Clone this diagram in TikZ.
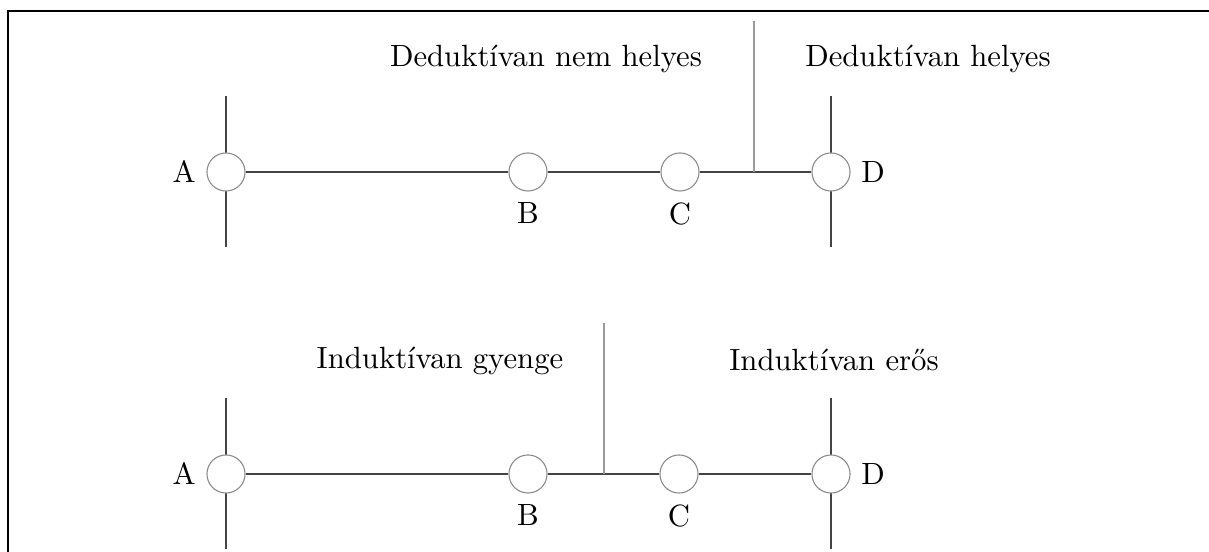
\documentclass[tikz,border=0pt]{standalone}
\usepackage{fontspec}
\definecolor{linec}{HTML}{444444}
\definecolor{circc}{HTML}{8A8A8A}
\definecolor{divc}{HTML}{9A9A9A}
\tikzset{
  pt/.style={circle, draw=circc, line width=0.35pt, fill=white, minimum size=12.4pt, inner sep=0pt, label distance=0pt},
  conn/.style={draw=linec, line width=0.4pt},
  divider/.style={draw=divc, line width=0.4pt},
  frameline/.style={draw=black, line width=0.5pt},
  title/.style={anchor=base, inner sep=0pt}
}
\begin{document}
\begin{tikzpicture}[x=0.3257pt, y=-0.3257pt]
\useasboundingbox (0,0) rectangle (1209,552);
% frame
\coordinate (fl) at (8,552);
\coordinate (fr) at (1209,11);
\draw[frameline] (fl) |- (fr);

% ---- top row
\coordinate (aT1) at (226,96);
\coordinate (aB1) at (226,247);
\coordinate (dT1) at (831,96);
\coordinate (dB1) at (831,247);
\draw[conn] (aT1) -- (aB1);
\draw[conn] (dT1) -- (dB1);
\node[pt, label=left:A] (A1) at (226,172) {};
\node[pt, label=below:B] (B1) at (528,172) {};
\node[pt, label=below:C] (C1) at (680,172) {};
\node[pt, label=right:D] (D1) at (831,172) {};
\draw[conn] (A1) -- (B1);
\draw[conn] (B1) -- (C1);
\draw[conn] (C1) -- (D1);
\coordinate (v1t) at (754,21);
\coordinate (v1b) at (754,172);
\draw[divider] (v1t) -- (v1b);
\node[title] (t1) at (546,67) {Deduktívan nem helyes};
\node[title] (t2) at (928,67) {Deduktívan helyes};

% ---- bottom row
\coordinate (aT2) at (226,398);
\coordinate (aB2) at (226,549);
\coordinate (dT2) at (831,398);
\coordinate (dB2) at (831,549);
\draw[conn] (aT2) -- (aB2);
\draw[conn] (dT2) -- (dB2);
\node[pt, label=left:A] (A2) at (226,474) {};
\node[pt, label=below:B] (B2) at (528,474) {};
\node[pt, label=below:C] (C2) at (679,474) {};
\node[pt, label=right:D] (D2) at (831,474) {};
\draw[conn] (A2) -- (B2);
\draw[conn] (B2) -- (C2);
\draw[conn] (C2) -- (D2);
\coordinate (v2t) at (604,323);
\coordinate (v2b) at (604,474);
\draw[divider] (v2t) -- (v2b);
\node[title] (t3) at (440,369) {Induktívan gyenge};
\node[title] (t4) at (834,371) {Induktívan erős};
\end{tikzpicture}
\end{document}
